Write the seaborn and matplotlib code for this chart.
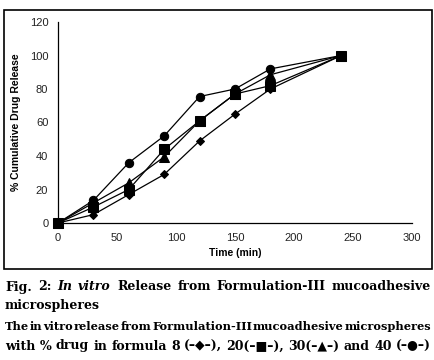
import pandas as pd
import seaborn as sns
import matplotlib.pyplot as plt
from matplotlib.patches import Rectangle

# time points (min) and % cumulative drug release
time_min = [0, 30, 60, 90, 120, 150, 180, 240]
release_8 = [0, 5, 17, 29, 49, 65, 80, 100]
release_20 = [0, 9.5, 20, 44, 61, 77, 82, 100]
release_30 = [0, 12, 24, 39.5, 61, 77, 88.5, 100]
release_40 = [0, 13.5, 36, 52, 75.5, 80, 92, 100]

formulas = ['8', '20', '30', '40']
series = [release_8, release_20, release_30, release_40]
markers = ['D', 's', '^', 'o']
msizes = [4.5, 6.5, 6.5, 6]

rows = []
for f, vals in zip(formulas, series):
    for t, v in zip(time_min, vals):
        rows.append({'Time': t, 'Release': v, 'Formula': f})
df = pd.DataFrame(rows)

sns.set_style('white')
plt.rcParams['font.family'] = ['Liberation Sans', 'DejaVu Sans']
plt.rcParams['text.color'] = 'black'
plt.rcParams['axes.labelcolor'] = 'black'
plt.rcParams['xtick.color'] = 'black'
plt.rcParams['ytick.color'] = 'black'

fig = plt.figure(figsize=(4.35, 3.6), dpi=100)
ax = fig.add_axes([58 / 435, 1 - 223 / 360, 354 / 435, 201 / 360])

for f, m, ms in zip(formulas, markers, msizes):
    sns.lineplot(data=df[df['Formula'] == f], x='Time', y='Release',
                 color='black', linewidth=0.9, marker=m, markersize=ms,
                 markeredgecolor='black', markerfacecolor='black', ax=ax)

ax.set_xlim(0, 300)
ax.set_ylim(0, 120)
ax.set_xticks(range(0, 301, 50))
ax.set_yticks(range(0, 121, 20))
sns.despine(ax=ax)
for s in ['left', 'bottom']:
    ax.spines[s].set_color('black')
    ax.spines[s].set_linewidth(0.9)
ax.tick_params(axis='both', direction='out', length=4, width=0.9, color='black',
               labelcolor='#222222', labelsize=8, pad=3)
ax.set_xlabel('Time (min)', fontsize=7.5, fontweight='bold', labelpad=4)
ax.set_ylabel('% Cumulative Drug Release', fontsize=7.5, fontweight='bold', labelpad=6)
for p in ax.lines:
    p.set_clip_on(False)

# outer frame around chart
fig.patches.append(Rectangle((4 / 435, 1 - 269 / 360), 428 / 435, 259 / 360,
                             transform=fig.transFigure, fill=False,
                             edgecolor='black', linewidth=1.2))

# caption, justified word by word
serif = ['DejaVu Serif']
renderer = fig.canvas.get_renderer()
X0, X1 = 5, 431


def make_words(words, y, size):
    texts = []
    for w, style in words:
        texts.append(fig.text(0, 360 - y, w, fontsize=size, fontweight='bold',
                              fontstyle=style, family=serif, va='center',
                              ha='left', transform=None))
    return texts


def caption_line(words, y, justify=True, size=9.0, min_gap=2.0):
    # shrink the font until the words fit on the line
    while True:
        texts = make_words(words, y, size)
        widths = [t.get_window_extent(renderer).width for t in texts]
        if not justify or sum(widths) + min_gap * (len(texts) - 1) <= X1 - X0:
            break
        for t in texts:
            t.remove()
        size -= 0.1
    if justify and len(texts) > 1:
        gap = (X1 - X0 - sum(widths)) / (len(texts) - 1)
    else:
        gap = 4
    x = X0
    for t, wd in zip(texts, widths):
        t.set_position((x, 360 - y))
        x += wd + gap


n = 'normal'
caption_line([('Fig.', n), ('2:', n), ('In', 'italic'), ('vitro', 'italic'), ('Release', n),
              ('from', n), ('Formulation-III', n), ('mucoadhesive', n)], 287)
caption_line([('microspheres', n)], 305, justify=False)
caption_line([('The', n), ('in', n), ('vitro', n), ('release', n), ('from', n),
              ('Formulation-III', n), ('mucoadhesive', n), ('microspheres', n)], 327,
             min_gap=0.5)
caption_line([('with', n), ('%', n), ('drug', n), ('in', n), ('formula', n), ('8', n),
              ('(–◆–),', n), ('20(–■–),', n), ('30(–▲–)', n), ('and', n), ('40', n),
              ('(–●–)', n)], 346)

fig.savefig('out.png', dpi=100)
